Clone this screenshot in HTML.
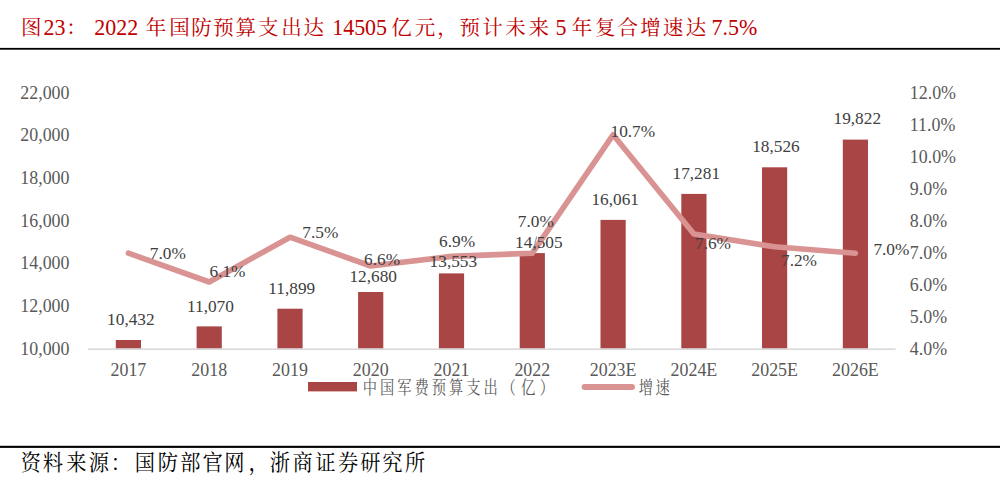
<!DOCTYPE html>
<html lang="zh-CN">
<head>
<meta charset="utf-8">
<title>图23</title>
<style>
html,body{margin:0;padding:0;background:#fff;}
body{width:1000px;height:491px;overflow:hidden;}
svg{display:block;}
text{font-family:"Liberation Serif","Noto Serif CJK SC",serif;}
.cjk{font-family:"Liberation Serif","Noto Serif CJK SC",serif;}
.tick{font-size:17.9px;fill:#595959;}
.lab{font-size:17.3px;fill:#404040;}
.ttl{font-size:23.8px;fill:#C00000;}
.ttlc{font-size:20.5px;fill:#C00000;}
.src{font-size:21.3px;fill:#000;}
.leg{font-size:16.6px;fill:#595959;}
</style>
</head>
<body>
<svg width="1000" height="491" viewBox="0 0 1000 491">
<rect x="0" y="0" width="1000" height="491" fill="#ffffff"/>
<!-- title -->
<text class="ttlc" text-anchor="middle" x="31.2" y="35.0">图</text>
<text class="ttl" transform="translate(43.6,35.0) scale(0.922,1)">23</text>
<text class="ttlc" text-anchor="middle" x="76.5" y="35.0">：</text>
<text class="ttl" transform="translate(94.3,35.0) scale(0.922,1)">2022</text>
<text class="ttlc" text-anchor="middle" x="156.0 179.4 201.5 223.6 245.7 268.2 291.4 313.7" y="35.0">年国防预算支出达</text>
<text class="ttl" transform="translate(332.2,35.0) scale(0.922,1)">14505</text>
<text class="ttlc" text-anchor="middle" x="401.5 424.9 447.5" y="35.0">亿元，</text>
<text class="ttlc" text-anchor="middle" x="469.7 492.5 515.6 538.7" y="35.0">预计未来</text>
<text class="ttl" transform="translate(555.4,35.0) scale(0.922,1)">5</text>
<text class="ttlc" text-anchor="middle" x="581.9 605.3 627.7 650.6 672.9 695.9" y="35.0">年复合增速达</text>
<text class="ttl" transform="translate(711.5,35.0) scale(0.922,1)">7.5%</text>
<rect x="0" y="47.9" width="1000" height="1.8" fill="#000"/>
<!-- plot -->
<rect x="115.8" y="340.0" width="25.2" height="8.6" fill="#A94545"/>
<rect x="196.6" y="326.4" width="25.2" height="22.2" fill="#A94545"/>
<rect x="277.4" y="308.7" width="25.2" height="39.9" fill="#A94545"/>
<rect x="358.1" y="292.0" width="25.2" height="56.6" fill="#A94545"/>
<rect x="438.9" y="273.4" width="25.2" height="75.2" fill="#A94545"/>
<rect x="519.7" y="253.1" width="25.2" height="95.5" fill="#A94545"/>
<rect x="600.5" y="219.9" width="25.2" height="128.7" fill="#A94545"/>
<rect x="681.3" y="193.9" width="25.2" height="154.7" fill="#A94545"/>
<rect x="762.0" y="167.3" width="25.2" height="181.3" fill="#A94545"/>
<rect x="842.8" y="139.6" width="25.2" height="209.0" fill="#A94545"/>
<rect x="88" y="348.4" width="807.6" height="1.6" fill="#D9D9D9"/>
<polyline points="128.4,253.2 209.2,282.0 290.0,237.2 370.7,266.0 451.5,256.4 532.3,253.2 613.1,134.8 693.9,234.0 774.6,246.8 855.4,253.2" fill="none" stroke="#D99392" stroke-width="5.6" stroke-linecap="round" stroke-linejoin="round"/>
<line x1="536.7" y1="236.5" x2="533" y2="251.7" stroke="#A0A0A0" stroke-width="1.2"/>
<text class="tick" text-anchor="end" transform="translate(69.5,354.5) scale(1.000,1)">10,000</text>
<text class="tick" text-anchor="end" transform="translate(69.5,311.8) scale(1.000,1)">12,000</text>
<text class="tick" text-anchor="end" transform="translate(69.5,269.2) scale(1.000,1)">14,000</text>
<text class="tick" text-anchor="end" transform="translate(69.5,226.5) scale(1.000,1)">16,000</text>
<text class="tick" text-anchor="end" transform="translate(69.5,183.8) scale(1.000,1)">18,000</text>
<text class="tick" text-anchor="end" transform="translate(69.5,141.1) scale(1.000,1)">20,000</text>
<text class="tick" text-anchor="end" transform="translate(69.5,98.5) scale(1.000,1)">22,000</text>
<text class="tick" transform="translate(909.8,354.5) scale(1.000,1)">4.0%</text>
<text class="tick" transform="translate(909.8,322.5) scale(1.000,1)">5.0%</text>
<text class="tick" transform="translate(909.8,290.5) scale(1.000,1)">6.0%</text>
<text class="tick" transform="translate(909.8,258.5) scale(1.000,1)">7.0%</text>
<text class="tick" transform="translate(909.8,226.5) scale(1.000,1)">8.0%</text>
<text class="tick" transform="translate(909.8,194.5) scale(1.000,1)">9.0%</text>
<text class="tick" transform="translate(909.8,162.5) scale(1.000,1)">10.0%</text>
<text class="tick" transform="translate(909.8,130.5) scale(1.000,1)">11.0%</text>
<text class="tick" transform="translate(909.8,98.5) scale(1.000,1)">12.0%</text>
<text class="tick" text-anchor="middle" transform="translate(128.4,375.6) scale(1.000,1)">2017</text>
<text class="tick" text-anchor="middle" transform="translate(209.2,375.6) scale(1.000,1)">2018</text>
<text class="tick" text-anchor="middle" transform="translate(290.0,375.6) scale(1.000,1)">2019</text>
<text class="tick" text-anchor="middle" transform="translate(370.7,375.6) scale(1.000,1)">2020</text>
<text class="tick" text-anchor="middle" transform="translate(451.5,375.6) scale(1.000,1)">2021</text>
<text class="tick" text-anchor="middle" transform="translate(532.3,375.6) scale(1.000,1)">2022</text>
<text class="tick" text-anchor="middle" transform="translate(613.1,375.6) scale(1.000,1)">2023E</text>
<text class="tick" text-anchor="middle" transform="translate(693.9,375.6) scale(1.000,1)">2024E</text>
<text class="tick" text-anchor="middle" transform="translate(774.6,375.6) scale(1.000,1)">2025E</text>
<text class="tick" text-anchor="middle" transform="translate(855.4,375.6) scale(1.000,1)">2026E</text>
<text class="lab" transform="translate(107.1,324.8) scale(1.000,1)">10,432</text>
<text class="lab" transform="translate(187.0,311.8) scale(1.000,1)">11,070</text>
<text class="lab" transform="translate(268.3,293.7) scale(1.000,1)">11,899</text>
<text class="lab" transform="translate(349.4,281.5) scale(1.000,1)">12,680</text>
<text class="lab" transform="translate(429.6,267.0) scale(1.000,1)">13,553</text>
<text class="lab" transform="translate(515.1,248.3) scale(1.000,1)">14,505</text>
<text class="lab" transform="translate(591.4,204.6) scale(1.000,1)">16,061</text>
<text class="lab" transform="translate(672.5,179.4) scale(1.000,1)">17,281</text>
<text class="lab" transform="translate(752.2,151.5) scale(1.000,1)">18,526</text>
<text class="lab" transform="translate(833.5,124.3) scale(1.000,1)">19,822</text>
<text class="lab" transform="translate(149.8,259.4) scale(1.000,1)">7.0%</text>
<text class="lab" transform="translate(209.5,276.8) scale(1.000,1)">6.1%</text>
<text class="lab" transform="translate(302.3,237.5) scale(1.000,1)">7.5%</text>
<text class="lab" transform="translate(364.1,265.1) scale(1.000,1)">6.6%</text>
<text class="lab" transform="translate(439.1,247.3) scale(1.000,1)">6.9%</text>
<text class="lab" transform="translate(517.8,226.8) scale(1.000,1)">7.0%</text>
<text class="lab" transform="translate(610.5,137.1) scale(1.000,1)">10.7%</text>
<text class="lab" transform="translate(695.0,248.8) scale(1.000,1)">7.6%</text>
<text class="lab" transform="translate(781.0,265.9) scale(1.000,1)">7.2%</text>
<text class="lab" transform="translate(873.4,254.9) scale(1.000,1)">7.0%</text>
<!-- legend -->
<rect x="308" y="382" width="49" height="9.4" fill="#A94545"/>
<text class="leg" text-anchor="middle" transform="scale(0.860,1.070)" x="430.1 450.2 470.3 490.3 510.4 530.5 550.5 570.6 591.4 614.0 635.8" y="367.9">中国军费预算支出（亿）</text>
<line x1="584.6" y1="387" x2="632" y2="387" stroke="#D99392" stroke-width="6" stroke-linecap="round"/>
<text class="leg" text-anchor="middle" transform="scale(0.860,1.070)" x="750.9 770.5" y="367.9">增速</text>
<!-- source -->
<rect x="0" y="445.8" width="1000" height="2.1" fill="#000"/>
<text class="src" text-anchor="middle" transform="scale(0.950,1.000)" x="32.6 55.7 80.5 104.1 127.1" y="470.5">资料来源：</text>
<text class="src" text-anchor="middle" transform="scale(0.950,1.000)" x="152.6 176.7 200.3 223.7 246.8 272.1" y="470.5">国防部官网，</text>
<text class="src" text-anchor="middle" transform="scale(0.950,1.000)" x="294.7 318.6 342.6 366.5 389.8 413.1 437.1" y="470.5">浙商证券研究所</text>
</svg>
</body>
</html>
